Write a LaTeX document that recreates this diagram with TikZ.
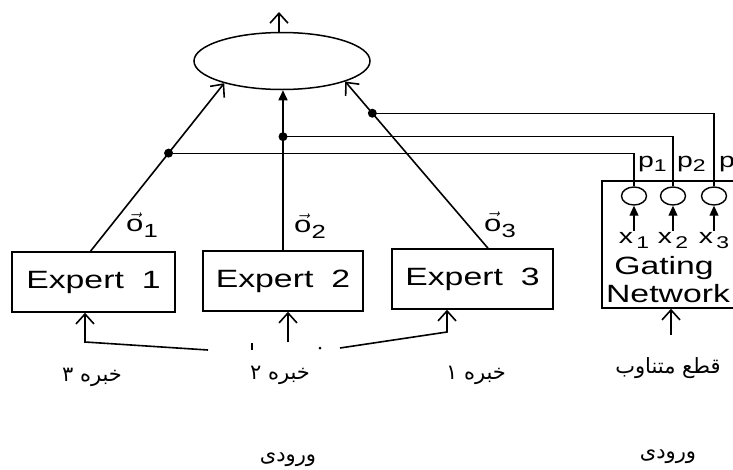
\documentclass[tikz,border=0pt]{standalone}
\usepackage{fontspec}
\setmainfont{Liberation Sans}
\newfontfamily\figfont[FakeStretch=1.35]{Liberation Sans}
\newfontfamily\fafont[Script=Arabic]{DejaVu Sans}
\TeXXeTstate=1
\usetikzlibrary{arrows.meta,shapes.geometric}

\begin{document}
\begin{tikzpicture}[x=1pt,y=-1pt,
  wire/.style={line width=1.6pt},
  thinwire/.style={line width=1.1pt},
  opentip/.style={-{Straight Barb[length=10pt,width=18pt,line width=1.6pt]}},
  filltip/.style={-{Triangle[length=10pt,width=9pt]}},
  box/.style={draw,line width=1.5pt,rectangle,inner sep=0pt},
  lbl/.style={font={\figfont\fontsize{25}{28}\selectfont}},
  sublbl/.style={font={\figfont\fontsize{21}{22}\selectfont},inner sep=1pt},
  fatext/.style={font={\fafont\fontsize{21}{24}\selectfont}},
  jn/.style={circle,fill,inner sep=0pt,minimum size=9pt},
  gcirc/.style={draw,ellipse,line width=1.4pt,inner sep=0pt,minimum width=25pt,minimum height=18pt},
]
\useasboundingbox (0,0) rectangle (733,469);

% combining unit
\node[draw,ellipse,line width=1.5pt,inner sep=0pt,minimum width=176pt,minimum height=57pt] (out) at (282,61) {};
\coordinate (top) at (279,12);
\draw[wire,opentip] ([xshift=-3pt]out.north) -- (top);

% expert networks
\node[box,lbl,minimum width=163pt,minimum height=60pt] (ex1) at (93.5,282) {Expert\hspace{18pt}1};
\node[box,lbl,minimum width=160pt,minimum height=60pt] (ex2) at (283,281) {Expert\hspace{18pt}2};
\node[box,lbl,minimum width=161pt,minimum height=60pt] (ex3) at (472.5,279) {Expert\hspace{18pt}3};

% gating network
\node[box,minimum width=138pt,minimum height=127pt] (gate) at (671,244.5) {};
\node[lbl,anchor=base] (g1) at (664,274) {Gating};
\node[lbl,anchor=base] (g2) at (668,302) {Network};
\node[gcirc] (c1) at (634,196) {};
\node[gcirc] (c2) at (673,196) {};
\node[gcirc] (c3) at (714,196) {};
\node[sublbl,anchor=base] (x1) at (634,243) {x\,\raisebox{-5pt}{\fontsize{17}{18}\selectfont 1}};
\node[sublbl,anchor=base] (x2) at (673,243) {x\,\raisebox{-5pt}{\fontsize{17}{18}\selectfont 2}};
\node[sublbl,anchor=base] (x3) at (714,243) {x\,\raisebox{-5pt}{\fontsize{17}{18}\selectfont 3}};
\draw[thinwire,filltip] (x1.north) -- (c1.south);
\draw[thinwire,filltip] (x2.north) -- (c2.south);
\draw[thinwire,filltip] (x3.north) -- (c3.south);
\node[sublbl,anchor=base west] (p1) at (637,167) {p\raisebox{-4pt}{\fontsize{17}{18}\selectfont 1}};
\node[sublbl,anchor=base west] (p2) at (676,167) {p\raisebox{-4pt}{\fontsize{17}{18}\selectfont 2}};
\node[sublbl,anchor=base west] (p3) at (718,167) {p\raisebox{-4pt}{\fontsize{17}{18}\selectfont 3}};

% expert outputs into the combiner, with taps for the gate weights
\draw[wire,opentip] ([xshift=-3pt]ex1.north) -- coordinate[pos=0.584] (d1) (out.201);
\draw[wire,filltip] (ex2.north) -- coordinate[pos=0.71] (d2) (ex2.north |- out.south);
\draw[wire,opentip] ([xshift=15.5pt]ex3.north) -- coordinate[pos=0.81] (d3) (out.342);
\node[jn] (j1) at (d1) {};
\node[jn] (j2) at (d2) {};
\node[jn] (j3) at (d3) {};
\draw[thinwire] (j1.center) -| (c1.north);
\draw[thinwire] (j2.center) -| (c2.north);
\draw[thinwire] (j3.center) -| (c3.north);

\node[lbl,font={\figfont\fontsize{23}{24}\selectfont},inner sep=0pt] (o1) at (142,225) {$\vec{\mbox{o}}$\raisebox{-6pt}{\fontsize{19}{20}\selectfont 1}};
\node[lbl,font={\figfont\fontsize{23}{24}\selectfont},inner sep=0pt] (o2) at (310,226) {$\vec{\mbox{o}}$\raisebox{-6pt}{\fontsize{19}{20}\selectfont 2}};
\node[lbl,font={\figfont\fontsize{23}{24}\selectfont},inner sep=0pt] (o3) at (500,225) {$\vec{\mbox{o}}$\raisebox{-6pt}{\fontsize{19}{20}\selectfont 3}};

% shared input lines
\coordinate (in1) at (85,342);
\coordinate (in1e) at (208,350);
\coordinate (m1) at (252,343);
\coordinate (m1e) at (252,350);
\coordinate (in2) at (288,342);
\coordinate (in3) at (340,348);
\coordinate (in3b) at (447,332);
\coordinate (ing) at (671,335);
\draw[wire,opentip] (in1e) -- (in1) -- (in1 |- ex1.south);
\draw[wire] (m1) -- (m1e);
\fill (320,348) circle (1.5pt);
\draw[wire,opentip] (in2) -- (in2 |- ex2.south);
\draw[wire,opentip] (in3) -- (in3b) -- (in3b |- ex3.south);
\draw[wire,opentip] (ing) -- (gate.south);

% captions
\node[fatext] (t3) at (92,377) {\beginR خبره ۳\endR};
\node[fatext] (t2) at (280,375) {\beginR خبره ۲\endR};
\node[fatext] (t1) at (476,375) {\beginR خبره ۱\endR};
\node[fatext] (tg) at (668,368) {\beginR قطع متناوب\endR};
\node[fatext] (v1) at (288,460) {\beginR ورودی\endR};
\node[fatext] (v2) at (668,457) {\beginR ورودی\endR};
\end{tikzpicture}
\end{document}
